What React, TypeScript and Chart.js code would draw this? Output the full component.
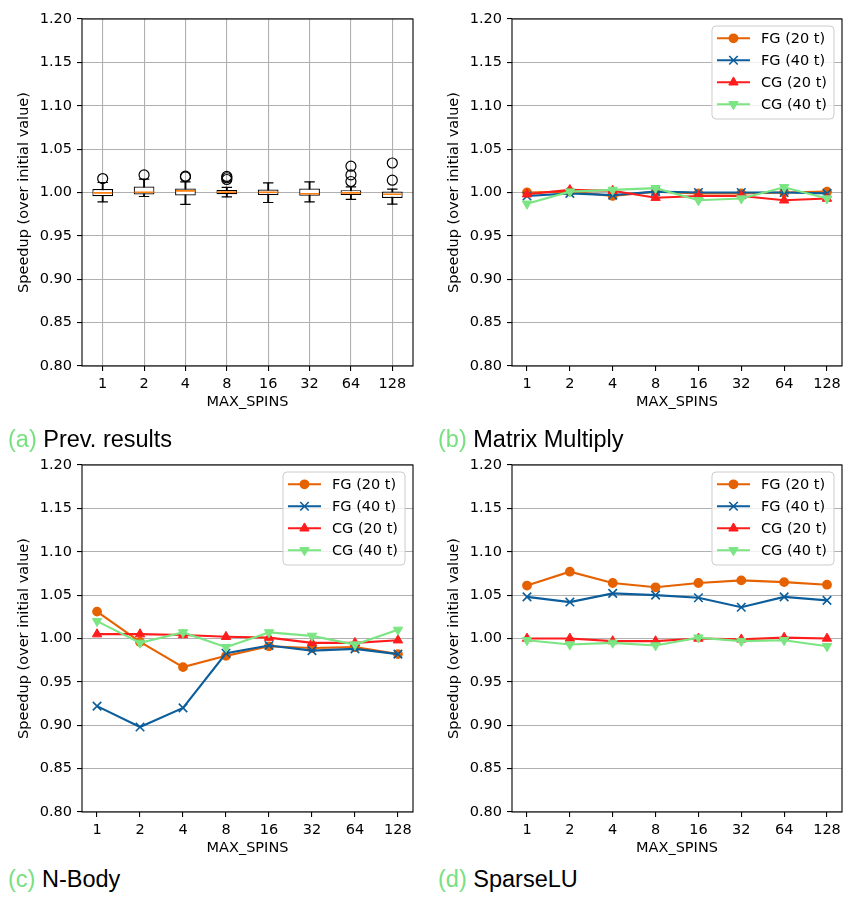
import React, { useEffect, useRef } from 'react';
import { Chart, registerables } from 'chart.js';
import { drawPoint } from 'chart.js/helpers';

Chart.register(...registerables);

// ---------- data ----------
const SPINS = ['1', '2', '4', '8', '16', '32', '64', '128'];
const Y_TICKS = [0.8, 0.85, 0.9, 0.95, 1.0, 1.05, 1.1, 1.15, 1.2];
const SERIES_NAMES = ['FG (20 t)', 'FG (40 t)', 'CG (20 t)', 'CG (40 t)'];
const X_TITLE = 'MAX_SPINS';
const Y_TITLE = 'Speedup (over initial value)';

// (a) Prev. results — box plot statistics
const PREV_Q1 = [0.9957, 0.9977, 0.9965, 0.998, 0.9972, 0.9962, 0.997, 0.9938];
const PREV_Q3 = [1.0041, 1.0069, 1.0046, 1.003, 1.0035, 1.0046, 1.0027, 1.0012];
const PREV_MED = [0.9996, 1.0003, 1.0019, 1.0004, 1.0003, 0.9985, 0.9996, 0.998];
const PREV_WLO = [0.9892, 0.9954, 0.9862, 0.995, 0.9885, 0.9892, 0.992, 0.9865];
const PREV_WHI = [1.0115, 1.0155, 1.0122, 1.0058, 1.011, 1.0122, 1.0065, 1.004];
const PREV_OUT_X = ['1', '2', '4', '4', '8', '8', '8', '64', '64', '64', '128', '128'];
const PREV_OUT_Y = [1.0161, 1.0203, 1.0188, 1.018, 1.0185, 1.017, 1.015, 1.0303, 1.0203, 1.0127, 1.034, 1.0142];

// (b) Matrix Multiply
const MM_FG20 = [1.0, 1.001, 0.996, 1.001, 0.999, 0.999, 1.0, 1.001];
const MM_FG40 = [0.996, 0.999, 0.997, 1.001, 1.0, 1.0, 1.0, 0.999];
const MM_CG20 = [0.998, 1.003, 1.002, 0.994, 0.996, 0.996, 0.991, 0.993];
const MM_CG40 = [0.987, 1.001, 1.003, 1.005, 0.991, 0.993, 1.006, 0.993];

// (c) N-Body
const NB_FG20 = [1.031, 0.996, 0.967, 0.98, 0.991, 0.989, 0.99, 0.982];
const NB_FG40 = [0.922, 0.898, 0.92, 0.983, 0.992, 0.986, 0.988, 0.982];
const NB_CG20 = [1.005, 1.005, 1.004, 1.002, 1.001, 0.995, 0.995, 0.998];
const NB_CG40 = [1.02, 0.995, 1.007, 0.99, 1.007, 1.003, 0.993, 1.01];

// (d) SparseLU
const SLU_FG20 = [1.061, 1.077, 1.064, 1.059, 1.064, 1.067, 1.065, 1.062];
const SLU_FG40 = [1.048, 1.042, 1.052, 1.05, 1.047, 1.036, 1.048, 1.044];
const SLU_CG20 = [1.0, 1.0, 0.997, 0.997, 1.0, 0.999, 1.001, 1.0];
const SLU_CG40 = [0.998, 0.993, 0.995, 0.992, 1.001, 0.997, 0.998, 0.991];

// ---------- styles ----------
const FONT = 'DejaVu Sans';
const FS = 14.5;
const COLORS = ['#e66100', '#0b5d9b', '#ff1c1c', '#7ae582'];
const MARKERS = [
  { style: 'circle', rot: 0, r: 4.2, bw: 1.4 },
  { style: 'crossRot', rot: 0, r: 6, bw: 1.6 },
  { style: 'triangle', rot: 0, r: 5.4, bw: 1 },
  { style: 'triangle', rot: 180, r: 5.4, bw: 1 },
];
const GRID = '#b0b0b0';

Chart.defaults.font.family = FONT;
Chart.defaults.font.size = FS;
Chart.defaults.color = '#000';

const framePlugin = {
  id: 'frame',
  afterDatasetsDraw(chart: any) {
    const { ctx, chartArea: a } = chart;
    ctx.save();
    ctx.strokeStyle = '#000';
    ctx.lineWidth = 1.1;
    ctx.strokeRect(a.left, a.top, a.right - a.left, a.bottom - a.top);
    ctx.restore();
  },
};

const legendPlugin = {
  id: 'mplLegend',
  afterDraw(chart: any, _args: any, opts: any) {
    if (!opts || !opts.show) return;
    const { ctx, chartArea: a } = chart;
    ctx.save();
    ctx.font = `${FS}px "${FONT}"`;
    const dss = chart.data.datasets;
    const textW = Math.max(...dss.map((d: any) => ctx.measureText(d.label).width));
    const w = 5 + 33 + 11 + textW + 7;
    const rowH = 22;
    const h = 12.3 + rowH * (dss.length - 1) + 14.7;
    const x0 = a.right - 8 - w;
    const y0 = a.top + 7;
    ctx.beginPath();
    (ctx as any).roundRect(x0, y0, w, h, 4);
    ctx.fillStyle = 'rgba(255,255,255,0.8)';
    ctx.fill();
    ctx.strokeStyle = '#cccccc';
    ctx.lineWidth = 1;
    ctx.stroke();
    dss.forEach((d: any, i: number) => {
      const cy = y0 + 12.3 + i * rowH;
      ctx.strokeStyle = d.borderColor;
      ctx.lineWidth = d.borderWidth;
      ctx.beginPath();
      ctx.moveTo(x0 + 5, cy);
      ctx.lineTo(x0 + 38, cy);
      ctx.stroke();
      ctx.fillStyle = d.pointBackgroundColor;
      ctx.strokeStyle = d.pointBorderColor;
      ctx.lineWidth = d.pointBorderWidth;
      drawPoint(ctx, { pointStyle: d.pointStyle, rotation: d.pointRotation, radius: d.pointRadius, borderWidth: d.pointBorderWidth } as any, x0 + 21.5, cy);
      ctx.fillStyle = '#000';
      ctx.textBaseline = 'middle';
      ctx.textAlign = 'left';
      ctx.fillText(d.label, x0 + 49, cy + 1);
    });
    ctx.restore();
  },
};

function yScale() {
  return {
    type: 'linear',
    min: 0.8,
    max: 1.2,
    beginAtZero: false,
    afterBuildTicks: (s: any) => {
      s.ticks = Y_TICKS.map((v) => ({ value: v }));
    },
    ticks: { callback: (v: any) => Number(v).toFixed(2), padding: 5, font: { size: FS } },
    grid: { color: GRID, lineWidth: 1.1, tickLength: 5, tickColor: '#000', tickWidth: 1.1, drawTicks: true },
    border: { display: false },
    title: { display: true, text: Y_TITLE, padding: { top: 16, bottom: 0 }, font: { size: FS } },
    afterFit: (s: any) => {
      s.width = 82;
      s.paddingTop = 0;
      s.paddingBottom = 0;
    },
  };
}

function xTitle() {
  return { display: true, text: X_TITLE, padding: { top: 0, bottom: 0 }, font: { size: FS } };
}
const xAfterFit = (s: any) => {
  s.height = 45;
  s.paddingLeft = 0;
  s.paddingRight = 0;
};

const LAYOUT = { autoPadding: false, padding: { left: 0, top: 19, right: 17, bottom: 9 } };
const LAYOUT_R = { autoPadding: false, padding: { left: 0, top: 19, right: 1, bottom: 9 } };

function boxConfig(): any {
  return {
    type: 'bar',
    data: {
      labels: SPINS,
      datasets: [
        {
          type: 'bar',
          label: 'whiskers',
          data: SPINS.map((_, i) => [PREV_WLO[i], PREV_WHI[i]]),
          backgroundColor: '#000',
          borderWidth: 0,
          barThickness: 1.2,
          grouped: false,
          order: 5,
        },
        {
          type: 'bar',
          label: 'boxes',
          data: SPINS.map((_, i) => [PREV_Q1[i], PREV_Q3[i]]),
          backgroundColor: '#fff',
          borderColor: '#000',
          borderWidth: 1.2,
          borderSkipped: false,
          barPercentage: 0.5,
          categoryPercentage: 1,
          grouped: false,
          order: 4,
        },
        {
          type: 'line',
          label: 'caps low',
          data: PREV_WLO,
          showLine: false,
          pointStyle: 'line',
          pointRadius: 5.2,
          pointBorderColor: '#000',
          pointBorderWidth: 1.2,
          order: 3,
        },
        {
          type: 'line',
          label: 'caps high',
          data: PREV_WHI,
          showLine: false,
          pointStyle: 'line',
          pointRadius: 5.2,
          pointBorderColor: '#000',
          pointBorderWidth: 1.2,
          order: 3,
        },
        {
          type: 'line',
          label: 'medians',
          data: PREV_MED,
          showLine: false,
          pointStyle: 'line',
          pointRadius: 9.6,
          pointBorderColor: '#ff7f0e',
          pointBorderWidth: 1.6,
          order: 2,
        },
        {
          type: 'line',
          label: 'outliers',
          data: PREV_OUT_X.map((x, i) => ({ x, y: PREV_OUT_Y[i] })),
          showLine: false,
          pointStyle: 'circle',
          pointRadius: 5,
          pointBackgroundColor: 'rgba(0,0,0,0)',
          pointBorderColor: '#000',
          pointBorderWidth: 1.2,
          order: 1,
        },
      ],
    },
    options: {
      animation: false,
      responsive: false,
      devicePixelRatio: 1,
      events: [],
      layout: LAYOUT,
      plugins: { legend: { display: false }, tooltip: { enabled: false }, mplLegend: { show: false } },
      scales: {
        x: {
          type: 'category',
          offset: true,
          grid: { offset: false, color: GRID, lineWidth: 1.1, tickLength: 5, tickColor: '#000', tickWidth: 1.1 },
          border: { display: false },
          ticks: { padding: 5, maxRotation: 0, autoSkip: false, font: { size: FS } },
          title: xTitle(),
          afterFit: xAfterFit,
        },
        y: yScale(),
      },
    },
    plugins: [framePlugin, legendPlugin],
  };
}

function lineConfig(series: number[][], rightCol: boolean): any {
  return {
    type: 'line',
    data: {
      datasets: series.map((vals, k) => ({
        label: SERIES_NAMES[k],
        data: vals.map((v, i) => ({ x: i, y: v })),
        borderColor: COLORS[k],
        backgroundColor: COLORS[k],
        borderWidth: 2.1,
        pointStyle: MARKERS[k].style,
        pointRotation: MARKERS[k].rot,
        pointRadius: MARKERS[k].r,
        pointBackgroundColor: COLORS[k],
        pointBorderColor: COLORS[k],
        pointBorderWidth: MARKERS[k].bw,
        tension: 0,
        fill: false,
        order: series.length - 1 - k,
      })),
    },
    options: {
      animation: false,
      responsive: false,
      devicePixelRatio: 1,
      events: [],
      layout: rightCol ? LAYOUT_R : LAYOUT,
      plugins: { legend: { display: false }, tooltip: { enabled: false }, mplLegend: { show: true } },
      scales: {
        x: {
          type: 'linear',
          min: -0.35,
          max: 7.35,
          afterBuildTicks: (s: any) => {
            s.ticks = SPINS.map((_, i) => ({ value: i }));
          },
          ticks: { callback: (v: any) => SPINS[Math.round(v)] ?? '', padding: 5, maxRotation: 0, autoSkip: false, font: { size: FS } },
          grid: { drawOnChartArea: false, tickLength: 5, tickColor: '#000', tickWidth: 1.1, lineWidth: 1.1, color: '#000' },
          border: { display: false },
          title: xTitle(),
          afterFit: xAfterFit,
        },
        y: yScale(),
      },
    },
    plugins: [framePlugin, legendPlugin],
  };
}

function ChartCanvas({ left, top, width, height, makeConfig }: any) {
  const ref = useRef<HTMLCanvasElement>(null);
  useEffect(() => {
    if (!ref.current) return;
    const chart = new Chart(ref.current, makeConfig());
    return () => chart.destroy();
  }, []);
  return (
    <canvas
      ref={ref}
      width={width}
      height={height}
      style={{ position: 'absolute', left, top, width, height }}
    />
  );
}

function Caption({ left, top, tag, text }: any) {
  return (
    <div
      style={{
        position: 'absolute',
        left,
        top,
        fontFamily: '"Liberation Sans", Arial, sans-serif',
        fontSize: 23.5,
        lineHeight: '22px',
        whiteSpace: 'nowrap',
        color: '#000',
      }}
    >
      <span style={{ color: '#77e07f' }}>{tag}</span> {text}
    </div>
  );
}

export default function App() {
  return (
    <div
      style={{
        position: 'absolute',
        left: 0,
        top: 0,
        width: 843,
        height: 903,
        overflow: 'hidden',
        background: '#fff',
      }}
    >
      <ChartCanvas left={0} top={0} width={430} height={420} makeConfig={() => boxConfig()} />
      <ChartCanvas left={430} top={0} width={413} height={420} makeConfig={() => lineConfig([MM_FG20, MM_FG40, MM_CG20, MM_CG40], true)} />
      <ChartCanvas left={0} top={446} width={430} height={420} makeConfig={() => lineConfig([NB_FG20, NB_FG40, NB_CG20, NB_CG40], false)} />
      <ChartCanvas left={430} top={446} width={413} height={420} makeConfig={() => lineConfig([SLU_FG20, SLU_FG40, SLU_CG20, SLU_CG40], true)} />
      <Caption left={8} top={428} tag="(a)" text="Prev. results" />
      <Caption left={438} top={428} tag="(b)" text="Matrix Multiply" />
      <Caption left={8} top={868} tag="(c)" text="N-Body" />
      <Caption left={438} top={868} tag="(d)" text="SparseLU" />
    </div>
  );
}
